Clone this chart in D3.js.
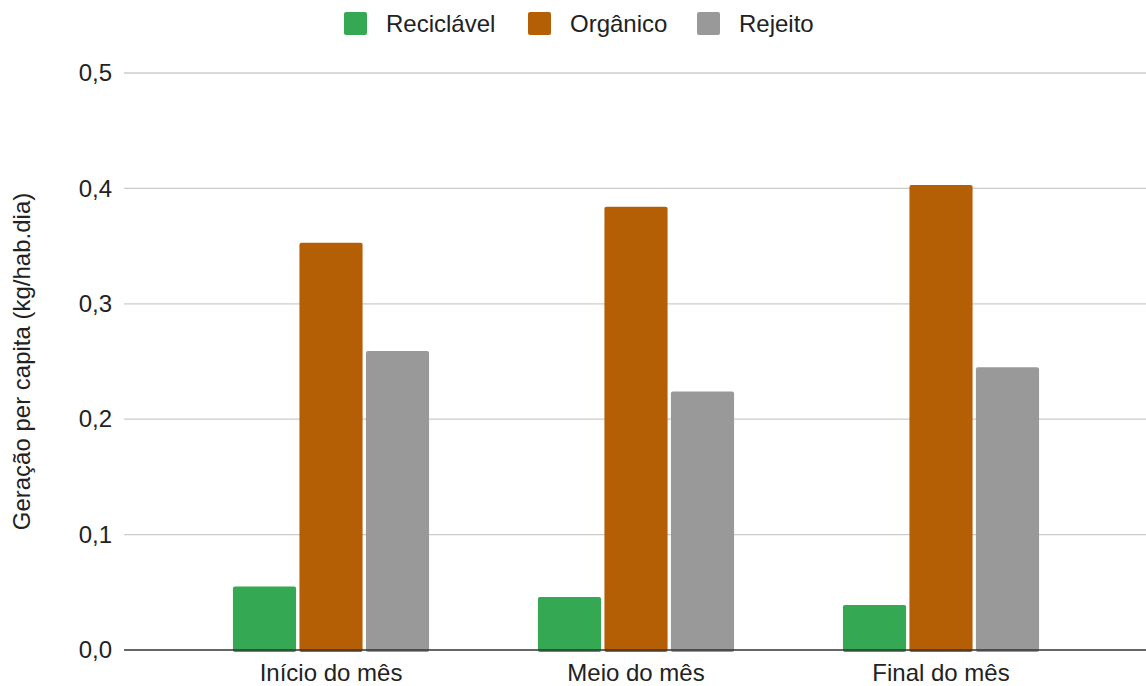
<!DOCTYPE html>
<html>
<head>
<meta charset="utf-8">
<script src="https://cdn.jsdelivr.net/npm/d3@7"></script>
<style>
  html, body { margin: 0; padding: 0; background: #fff; }
  svg { display: block; font-family: "Liberation Sans", Arial, sans-serif; }
</style>
</head>
<body>
<svg id="chart" width="1146" height="686"></svg>
<script>
// Per-capita waste generation by period of the month
const periods = ["Início do mês", "Meio do mês", "Final do mês"];
const seriesNames = ["Reciclável", "Orgânico", "Rejeito"];
const reciclavel = [0.055, 0.046, 0.039];
const organico = [0.353, 0.384, 0.403];
const rejeito = [0.259, 0.224, 0.245];
const yTicks = [0, 0.1, 0.2, 0.3, 0.4, 0.5];
const yTitle = "Geração per capita (kg/hab.dia)";
const colors = ["#34a853", "#b45f06", "#999999"];

const FONT = "'Liberation Sans', Arial, sans-serif";
const seriesValues = [reciclavel, organico, rejeito];
const rows = periods.map((p, i) => ({
  period: p,
  values: seriesNames.map((s, j) => ({ series: s, value: seriesValues[j][i] }))
}));

const svg = d3.select("#chart");
const plotLeft = 124, plotRight = 1146, plotTop = 73, plotBottom = 650;

const y = d3.scaleLinear().domain([0, 0.5]).range([plotBottom, plotTop]);
const x0 = d3.scaleBand().domain(periods).range([178.5, 1093.5])
  .paddingInner(0.357).paddingOuter(0.1785);
const x1 = d3.scaleBand().domain(seriesNames).range([0, x0.bandwidth()]).paddingInner(0.05);
const color = d3.scaleOrdinal().domain(seriesNames).range(colors);

// Gridlines
svg.append("g").selectAll("line").data(yTicks.filter(t => t > 0)).join("line")
  .attr("x1", plotLeft).attr("x2", plotRight)
  .attr("y1", d => y(d)).attr("y2", d => y(d))
  .attr("stroke", "#cccccc").attr("stroke-width", 1.3);

// Y tick labels
const fmt = d => d3.format(".1f")(d).replace(".", ",");
const yAxis = d3.axisLeft(y).tickValues(yTicks).tickFormat(fmt).tickSize(0).tickPadding(12);
const gy = svg.append("g").attr("transform", `translate(${plotLeft},0)`).call(yAxis);
gy.select(".domain").remove();
gy.selectAll("text").attr("font-size", 24).attr("fill", "#222").attr("font-family", FONT);

// Bars
const groups = svg.append("g").selectAll("g").data(rows).join("g")
  .attr("transform", d => `translate(${x0(d.period)},0)`);
groups.selectAll("rect").data(d => d.values).join("rect")
  .attr("x", d => x1(d.series))
  .attr("width", x1.bandwidth())
  .attr("y", d => y(d.value))
  .attr("height", d => y(0) - y(d.value) + 2)
  .attr("rx", 2).attr("ry", 2)
  .attr("fill", d => color(d.series));

// X axis
const xAxis = d3.axisBottom(x0).tickSize(0).tickPadding(14);
const gx = svg.append("g").attr("transform", `translate(0,${plotBottom})`).call(xAxis);
gx.select(".domain").remove();
gx.selectAll("text").attr("font-size", 24).attr("fill", "#222").attr("font-family", FONT);
svg.append("line")
  .attr("x1", plotLeft).attr("x2", plotRight)
  .attr("y1", y(0)).attr("y2", y(0))
  .attr("stroke", "#333").attr("stroke-width", 1.6);

// Y axis title
svg.append("text")
  .attr("transform", `translate(30,${(plotTop + plotBottom) / 2}) rotate(-90)`)
  .attr("text-anchor", "middle")
  .attr("font-size", 24).attr("fill", "#222")
  .text(yTitle);

// Legend
const legendX = [344, 528, 697];
const legend = svg.append("g").selectAll("g").data(seriesNames).join("g")
  .attr("transform", (d, i) => `translate(${legendX[i]},12)`);
legend.append("rect").attr("width", 23).attr("height", 23).attr("rx", 2)
  .attr("fill", d => color(d));
legend.append("text").attr("x", 42).attr("y", 20)
  .attr("font-size", 24).attr("fill", "#222").text(d => d);
</script>
</body>
</html>
